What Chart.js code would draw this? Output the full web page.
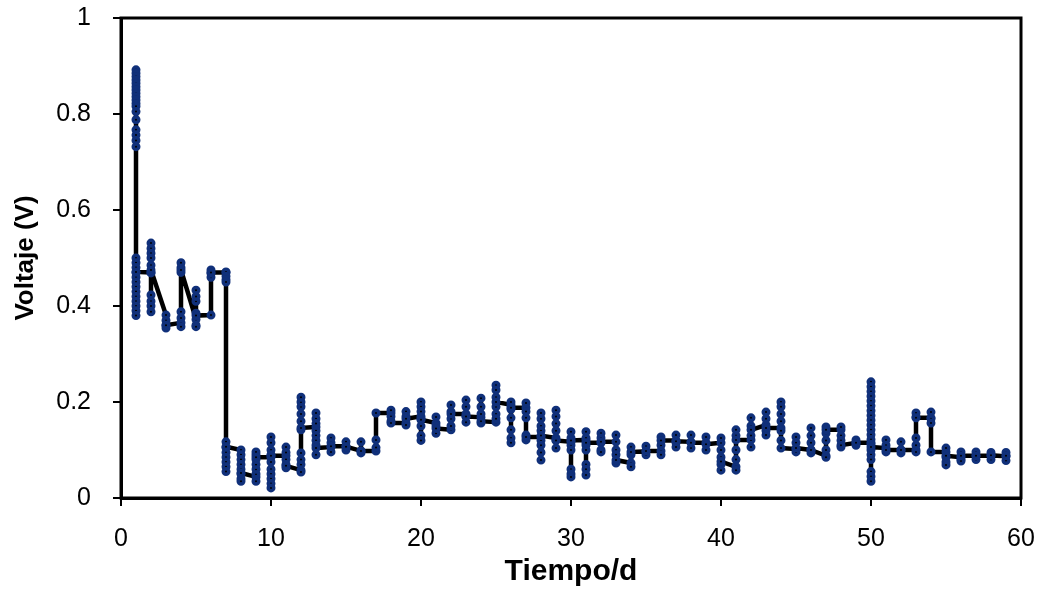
<!DOCTYPE html>
<html>
<head>
<meta charset="utf-8">
<script src="https://cdn.jsdelivr.net/npm/chart.js@4.4.1/dist/chart.umd.min.js"></script>
<style>
  html, body { margin: 0; padding: 0; background: #fff; }
  #wrap { width: 1045px; height: 590px; position: relative; }
</style>
</head>
<body>
<div id="wrap"><canvas id="c" width="1045" height="590"></canvas></div>
<script>
// Day of each measurement block (x axis, days)
const dayIndex = [
  1, 2, 3, 4, 5, 6, 7, 8, 9, 10,
  11, 12, 13, 14, 15, 16, 17, 18, 19, 20,
  21, 22, 23, 24, 25, 26, 27, 28, 29, 30,
  31, 32, 33, 34, 35, 36, 37, 38, 39, 40,
  41, 42, 43, 44, 45, 46, 47, 48, 49, 50,
  51, 52, 53, 54, 55, 56, 57, 58, 59
];

// Cell voltage readings (V) taken during each day, in recording order
const dailyVoltage = [
  [0.892, 0.885, 0.878, 0.871, 0.864, 0.857, 0.85, 0.843, 0.836, 0.829, 0.822, 0.816, 0.805, 0.788, 0.767, 0.756, 0.745, 0.732,
   0.50, 0.49, 0.48, 0.47, 0.46, 0.45, 0.44, 0.43, 0.42, 0.41, 0.40, 0.39, 0.38, 0.471],
  [0.47, 0.531, 0.52, 0.51, 0.50, 0.485, 0.469, 0.423, 0.41, 0.40, 0.388, 0.475],
  [0.381, 0.37, 0.36, 0.354, 0.36],
  [0.365, 0.357, 0.375, 0.388, 0.47, 0.48, 0.49, 0.475],
  [0.372, 0.36, 0.357, 0.385, 0.41, 0.42, 0.433, 0.38],
  [0.381, 0.46, 0.468, 0.475, 0.47],
  [0.47, 0.471, 0.462, 0.455, 0.45, 0.117, 0.105, 0.095, 0.085, 0.075, 0.065, 0.055, 0.107],
  [0.10, 0.09, 0.08, 0.07, 0.06, 0.05, 0.04, 0.035, 0.052],
  [0.044, 0.035, 0.05, 0.06, 0.07, 0.08, 0.09, 0.096, 0.085],
  [0.085, 0.127, 0.115, 0.10, 0.09, 0.075, 0.06, 0.05, 0.04, 0.03, 0.021, 0.088],
  [0.088, 0.106, 0.095, 0.08, 0.07, 0.063, 0.067],
  [0.058, 0.054, 0.07, 0.08, 0.094, 0.142, 0.16, 0.175, 0.19, 0.20, 0.21, 0.146],
  [0.148, 0.177, 0.165, 0.155, 0.14, 0.13, 0.12, 0.11, 0.09, 0.104],
  [0.106, 0.125, 0.115, 0.096, 0.108],
  [0.108, 0.117, 0.10, 0.107],
  [0.098, 0.117, 0.094, 0.098],
  [0.098, 0.121, 0.105, 0.177],
  [0.177, 0.183, 0.17, 0.16, 0.156],
  [0.156, 0.18, 0.17, 0.152, 0.165],
  [0.17, 0.20, 0.19, 0.18, 0.165, 0.15, 0.13, 0.12, 0.163],
  [0.156, 0.169, 0.15, 0.135, 0.145],
  [0.142, 0.194, 0.18, 0.165, 0.15, 0.175],
  [0.175, 0.204, 0.19, 0.17, 0.158, 0.17],
  [0.168, 0.208, 0.19, 0.175, 0.156, 0.16],
  [0.158, 0.235, 0.225, 0.21, 0.19, 0.175, 0.165, 0.20],
  [0.194, 0.20, 0.185, 0.167, 0.142, 0.125, 0.115, 0.188],
  [0.188, 0.198, 0.18, 0.167, 0.131, 0.121, 0.127],
  [0.127, 0.177, 0.165, 0.15, 0.14, 0.12, 0.11, 0.095, 0.079, 0.13],
  [0.125, 0.183, 0.17, 0.155, 0.14, 0.12, 0.104, 0.12],
  [0.117, 0.138, 0.125, 0.11, 0.10, 0.06, 0.05, 0.044, 0.12],
  [0.121, 0.138, 0.125, 0.11, 0.10, 0.07, 0.06, 0.048, 0.115],
  [0.115, 0.135, 0.125, 0.10, 0.096, 0.117],
  [0.117, 0.131, 0.10, 0.09, 0.073, 0.079],
  [0.073, 0.065, 0.09, 0.106, 0.096],
  [0.097, 0.108, 0.09, 0.098],
  [0.098, 0.09, 0.11, 0.127, 0.12],
  [0.12, 0.131, 0.115, 0.106, 0.118],
  [0.117, 0.131, 0.104, 0.115],
  [0.115, 0.127, 0.10, 0.112],
  [0.115, 0.125, 0.10, 0.085, 0.07, 0.058, 0.076],
  [0.065, 0.058, 0.08, 0.10, 0.13, 0.142, 0.121],
  [0.121, 0.106, 0.13, 0.15, 0.167, 0.142],
  [0.152, 0.179, 0.165, 0.14, 0.131, 0.146],
  [0.146, 0.20, 0.19, 0.175, 0.16, 0.14, 0.12, 0.104],
  [0.102, 0.096, 0.115, 0.127, 0.104],
  [0.10, 0.146, 0.13, 0.115, 0.094, 0.10],
  [0.088, 0.085, 0.10, 0.12, 0.135, 0.148, 0.142],
  [0.142, 0.148, 0.13, 0.12, 0.106, 0.11],
  [0.115, 0.121, 0.11, 0.115],
  [0.115, 0.242, 0.232, 0.222, 0.212, 0.202, 0.192, 0.182, 0.172, 0.162, 0.152, 0.142, 0.132, 0.122, 0.112, 0.10, 0.09, 0.08,
   0.055, 0.045, 0.035, 0.106],
  [0.104, 0.121, 0.11, 0.096, 0.10],
  [0.10, 0.117, 0.094, 0.10],
  [0.10, 0.096, 0.11, 0.125, 0.169, 0.177, 0.167],
  [0.167, 0.179, 0.165, 0.156, 0.096],
  [0.096, 0.104, 0.085, 0.075, 0.069, 0.088],
  [0.085, 0.096, 0.08, 0.077, 0.088],
  [0.088, 0.096, 0.08, 0.088],
  [0.088, 0.095, 0.08, 0.089],
  [0.087, 0.095, 0.078, 0.088]
];

// Axis ticks
const xTicks = [0, 10, 20, 30, 40, 50, 60];
const yTicks = [0, 0.2, 0.4, 0.6, 0.8, 1];

const points = [];
dayIndex.forEach((d, i) => {
  dailyVoltage[i].forEach(v => points.push({ x: d, y: v }));
});

// Frame around the plotting area
const frame = {
  id: 'frame',
  afterDraw(chart) {
    const { ctx, chartArea: a } = chart;
    ctx.save();
    ctx.strokeStyle = '#000';
    ctx.lineWidth = 3;
    ctx.strokeRect(a.left, a.top, a.right - a.left, a.bottom - a.top);
    ctx.restore();
  }
};

const family = 'Liberation Sans, Arial, sans-serif';
const tickFont = { family, size: 25 };

new Chart(document.getElementById('c'), {
  type: 'scatter',
  data: {
    datasets: [{
      data: points,
      showLine: true,
      borderColor: '#000',
      borderWidth: 4.5,
      pointRadius: 2.75,
      pointBorderWidth: 3.5,
      pointBorderColor: '#10307a',
      pointBackgroundColor: '#000',
      tension: 0
    }]
  },
  options: {
    responsive: false,
    animation: false,
    events: [],
    layout: { padding: { top: 18, right: 24, left: 0, bottom: 0 } },
    plugins: { legend: { display: false }, tooltip: { enabled: false } },
    scales: {
      x: {
        type: 'linear',
        min: 0, max: 60,
        afterBuildTicks: s => { s.ticks = xTicks.map(v => ({ value: v })); },
        afterFit: s => { s.height = 92; s.paddingLeft = 0; s.paddingRight = 0; },
        grid: { drawOnChartArea: false, drawTicks: true, tickLength: 8, color: '#000', lineWidth: 2 },
        border: { color: '#000', width: 3 },
        ticks: { color: '#000', font: tickFont, padding: 18, maxRotation: 0 },
        title: { display: true, text: 'Tiempo/d', color: '#000', font: { family, size: 30, weight: 'bold' }, padding: { top: 0, bottom: 0 } }
      },
      y: {
        type: 'linear',
        min: 0, max: 1,
        afterBuildTicks: s => { s.ticks = yTicks.map(v => ({ value: v })); },
        afterFit: s => { s.width = 121; s.paddingTop = 0; s.paddingBottom = 0; },
        grid: { drawOnChartArea: false, drawTicks: true, tickLength: 8, color: '#000', lineWidth: 2 },
        border: { color: '#000', width: 3 },
        ticks: { color: '#000', font: tickFont, padding: 22, callback: v => String(v) },
        title: { display: true, text: 'Voltaje (V)', color: '#000', font: { family, size: 26, weight: 'bold' }, padding: { top: 10, bottom: 0 } }
      }
    }
  },
  plugins: [frame]
});
</script>
</body>
</html>
